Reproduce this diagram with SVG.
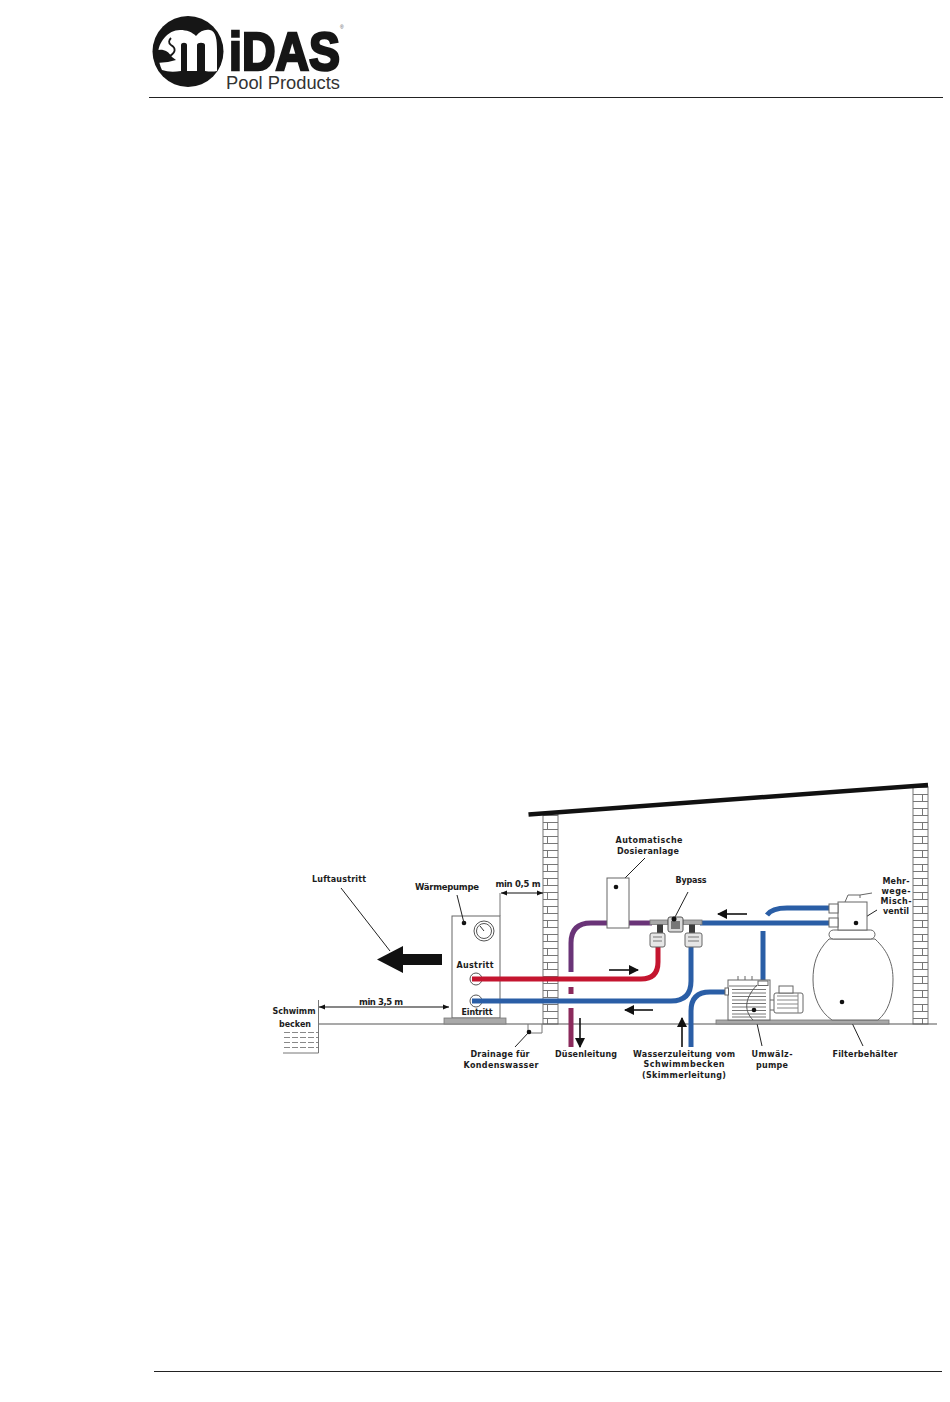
<svg xmlns="http://www.w3.org/2000/svg" width="950" height="1402" viewBox="0 0 950 1402">
<style>
.l{font-family:"DejaVu Sans",sans-serif;font-weight:700;font-size:8px;fill:#1c1c1c;text-anchor:middle}
.o{fill:#fff;stroke:#666;stroke-width:1}
.t{fill:none;stroke:#222;stroke-width:1}
.k{fill:#3c3c3c;stroke:none}
.g{fill:#a9a9a9;stroke:#777;stroke-width:.8}
.b{fill:none;stroke:#2a5ea6;stroke-width:5}
.r{fill:none;stroke:#c4152f;stroke-width:5}
.p{fill:none;stroke:#6a3478;stroke-width:5}
.m{fill:none;stroke:#8b2a5c;stroke-width:5}
.a{fill:none;stroke:#111;stroke-width:1.6}
.d{fill:#111}
.h{stroke:#111;stroke-width:1.2;fill:none;marker-start:url(#ds);marker-end:url(#de)}
.x{stroke:#777;stroke-width:1;fill:none}
</style>
<defs>
<pattern id="brick" width="15" height="14" patternUnits="userSpaceOnUse" x="0" y="3">
<rect width="15" height="14" fill="#fff"/>
<path d="M0 .5H15M0 7.5H15M7.5 7.5V14" stroke="#777" stroke-width="1" fill="none"/>
</pattern>
<marker id="big" markerWidth="10" markerHeight="10" refX="9" refY="5" orient="auto" markerUnits="userSpaceOnUse">
<path d="M0 0L10 5L0 10Z" fill="#111"/>
</marker>
<marker id="de" markerWidth="6" markerHeight="6" refX="6" refY="3" orient="auto" markerUnits="userSpaceOnUse">
<path d="M0 .5L6 3L0 5.500Z" fill="#111"/>
</marker>
<marker id="ds" markerWidth="6" markerHeight="6" refX="0" refY="3" orient="auto" markerUnits="userSpaceOnUse">
<path d="M6 .5L0 3L6 5.500Z" fill="#111"/>
</marker>
</defs>
<rect width="950" height="1402" fill="#fff"/>

<g id="logo">
<circle cx="188" cy="51.500" r="35.500" fill="#161616"/>
<path fill="#fff" d="M158 55C158 42 168 30 180 30C187 30 192 32 196 36C200 31 205 29 210 30C216 31 217 40 217 50V71Q212 72 205 71V45C205 42 197 42 197 45V71H187V45C187 42 181 42 181 45V71Q170 73 162 70Q159 64 158 55Z"/>
<path fill="#161616" d="M155 51C161 48 168 50 172 57L176 60L168 62L157 63Z"/>
<path fill="none" stroke="#161616" stroke-width="1.800" d="M170 56C176 52 176 48 171 45C168 43 169 40 171 38"/>
<text x="229" y="69.500" font-family="'Liberation Sans',sans-serif" font-weight="700" font-size="54" textLength="111" lengthAdjust="spacingAndGlyphs" fill="#161616" stroke="#161616" stroke-width="2.600">iDAS</text>
<text x="340" y="29" font-family="'Liberation Sans',sans-serif" font-size="5" fill="#555">®</text>
<text x="226" y="88.500" font-family="'Liberation Sans',sans-serif" font-size="18" textLength="114" lengthAdjust="spacingAndGlyphs" fill="#333">Pool Products</text>
</g>
<path id="header-rule" d="M149 97.500H943" stroke="#222" stroke-width="1"/>
<path id="footer-rule" d="M154 1371.500H942" stroke="#222" stroke-width="1"/>

<g id="building">
<rect x="543" y="814" width="15" height="210" fill="url(#brick)" stroke="#777"/>
<rect x="913" y="787" width="15" height="237" fill="url(#brick)" stroke="#777"/>
<path d="M528.500 814.500L928 785" stroke="#111" stroke-width="4.500" fill="none"/>
<path d="M319 1024H937" stroke="#555" stroke-width="1.100" fill="none"/>
</g>

<g id="pool">
<path d="M318.500 1000V1053M283 1053H318.500" class="x"/>
<path d="M284 1032.500H318M284 1037.500H318M284 1042.500H318M284 1047.500H318" stroke="#888" stroke-width="1" stroke-dasharray="6 2" fill="none"/>
<text class="l" x="294" y="1014" textLength="43">Schwimm</text>
<text class="l" x="295" y="1027" textLength="32">becken</text>
</g>

<g id="heat-pump">
<rect class="o" x="452" y="916" width="48" height="102"/>
<rect class="g" x="444" y="1018" width="62" height="6"/>
<circle cx="484" cy="931" r="10" fill="#fff" stroke="#555"/>
<circle cx="484" cy="931" r="7.500" fill="#fff" stroke="#555"/>
<path d="M484 931L480 926" stroke="#333" fill="none"/>
<circle class="d" cx="464" cy="923" r="2.300"/>
<circle cx="476" cy="979" r="6" fill="none" stroke="#555"/>
<circle cx="476" cy="1001" r="6" fill="none" stroke="#555"/>
<text class="l" x="447" y="890" style="font-size:8.500px" textLength="64">Wärmepumpe</text>
<text class="l" x="475" y="968" textLength="37">Austritt</text>
<text class="l" x="477" y="1015" textLength="31">Eintritt</text>
</g>

<g id="connectors">
<path class="p" d="M571 972V943Q571 923 591 923H652"/>
<path class="m" d="M571 987V994M571 1008V1047"/>
<path class="r" d="M472 979H641Q658 979 658 962V947"/>
<path class="b" d="M472 1001H671Q691 1001 691 981V947"/>
<path class="b" d="M691 1047V1011Q691 992 710 992H727"/>
<path class="b" d="M700 923H830"/>
<path class="b" d="M767 915Q772 908 787 908H830"/>
<path class="b" d="M763 931V982"/>
<path class="a" marker-end="url(#big)" d="M609 970H638"/>
<path class="a" marker-end="url(#big)" d="M653 1010H625"/>
<path class="a" marker-end="url(#big)" d="M747 914H718"/>
<path class="a" marker-end="url(#big)" d="M580 1018V1047"/>
<path class="a" marker-end="url(#big)" d="M682 1047V1018"/>
<path class="h" d="M319 1007H449"/>
<path class="h" d="M501 893H543"/>
<path class="x" d="M500 916V893"/>
<path class="t" d="M341 888L390 951"/>
<path class="t" d="M457 895L464 923"/>
<path class="t" d="M645 858L616 887"/>
<path class="t" d="M688 892L674 919"/>
<path class="t" d="M515 1047L529 1032"/>
<path class="t" d="M877 910L856 923"/>
<path class="t" d="M842 1002L863 1046"/>
<path class="t" d="M754 1010L762 1046"/>
<path id="air-arrow" class="d" d="M377 959.500L403 946V954H442V965H403V973Z"/>
</g>

<g id="dosing">
<rect class="o" x="607" y="878" width="22" height="50"/>
<circle class="d" cx="616" cy="887" r="2.300"/>
<text class="l" x="649" y="843" textLength="67">Automatische</text>
<text class="l" x="648" y="854" textLength="62">Dosieranlage</text>
</g>

<g id="bypass">
<rect class="g" x="650" y="920" width="18" height="4.500"/>
<rect class="g" x="683" y="920" width="19" height="4.500"/>
<rect class="k" x="657" y="924.500" width="6" height="9"/>
<rect class="k" x="689" y="924.500" width="6" height="9"/>
<rect x="668" y="917" width="15" height="15" rx="2" fill="#d8d8d8" stroke="#555"/>
<path d="M671 921H680V929H671Z" fill="#777"/>
<circle class="d" cx="674" cy="919" r="2.500"/>
<rect x="650" y="933" width="15" height="14" rx="2" fill="#e6e6e6" stroke="#666"/>
<rect x="685" y="933" width="17" height="14" rx="2" fill="#e6e6e6" stroke="#666"/>
<path d="M653 937H662M653 941H662M688 937H699M688 941H699" stroke="#777" fill="none"/>
<text class="l" x="691" y="883" textLength="31">Bypass</text>
</g>

<g id="pump">
<rect class="g" x="716" y="1020" width="173" height="4"/>
<rect x="774" y="993" width="29" height="20" rx="2" fill="#fff" stroke="#666"/>
<path d="M777 996H798M777 1000H798M777 1004H798M777 1008H798M798 993V1013" stroke="#888" fill="none"/>
<rect x="779" y="986" width="14" height="7" fill="#fff" stroke="#666"/>
<path d="M770 1000H774M770 1010H774" stroke="#666" fill="none"/>
<path d="M738 980V976M745 980V976M752 980V976" stroke="#666" fill="none"/>
<rect x="728" y="980" width="42" height="40" fill="#fff" stroke="#666"/>
<path d="M729 986H757M732 989.500H766M732 993H766M732 996.500H766M732 1000H766M732 1003.500H766M732 1007H766M732 1010.500H766M732 1014H766M732 1017H766" stroke="#777" fill="none"/>
<path d="M757 985C743 1000 745 1012 753 1020" stroke="#555" fill="none"/>
<rect x="725" y="988" width="3.500" height="7" fill="#fff" stroke="#666"/>
<rect x="758" y="981" width="10" height="4.500" fill="#fff" stroke="#666"/>
<circle class="d" cx="754" cy="1010" r="2.300"/>
<text class="l" x="772" y="1057" textLength="41">Umwälz-</text>
<text class="l" x="772" y="1068" textLength="32">pumpe</text>
</g>

<g id="filter">
<path d="M829 939C816 952 813 965 813 980C813 997 820 1012 832 1020H878C888 1012 893 997 893 980C893 965 889 952 875 939Z" fill="#fff" stroke="#666"/>
<circle class="d" cx="842" cy="1002" r="2.300"/>
<rect x="829" y="930" width="46" height="9" rx="4.500" fill="#fff" stroke="#666"/>
<rect x="838" y="902" width="29" height="28" fill="#fff" stroke="#666"/>
<rect x="829" y="904" width="9" height="9" fill="#fff" stroke="#666"/>
<rect x="829" y="918" width="9" height="9" fill="#fff" stroke="#666"/>
<path d="M845 902L848 895H860V898M860 895L872 893" stroke="#666" fill="none"/>
<circle class="d" cx="856" cy="923" r="2.300"/>
<text class="l" x="865" y="1057" textLength="65">Filterbehälter</text>
<text class="l" x="896" y="884" textLength="27">Mehr-</text>
<text class="l" x="896" y="894" textLength="29">wege-</text>
<text class="l" x="896" y="904" textLength="31">Misch-</text>
<text class="l" x="896" y="914" textLength="26">ventil</text>
</g>

<g id="drain">
<path class="x" d="M528 1024V1033H542V1024"/>
<circle class="d" cx="529" cy="1032" r="2.300"/>
<text class="l" x="500" y="1057" textLength="59">Drainage für</text>
<text class="l" x="501" y="1068" textLength="75">Kondenswasser</text>
</g>

<g id="labels">
<text class="l" x="339" y="882" textLength="54">Luftaustritt</text>
<text class="l" x="518" y="887" textLength="45" style="font-size:8.500px">min 0,5 m</text>
<text class="l" x="381" y="1005" textLength="44" style="font-size:8.500px">min 3,5 m</text>
<text class="l" x="586" y="1057" textLength="62">Düsenleitung</text>
<text class="l" x="684" y="1057" textLength="102">Wasserzuleitung vom</text>
<text class="l" x="684" y="1067" textLength="81">Schwimmbecken</text>
<text class="l" x="684" y="1078" textLength="84">(Skimmerleitung)</text>
</g>
</svg>
